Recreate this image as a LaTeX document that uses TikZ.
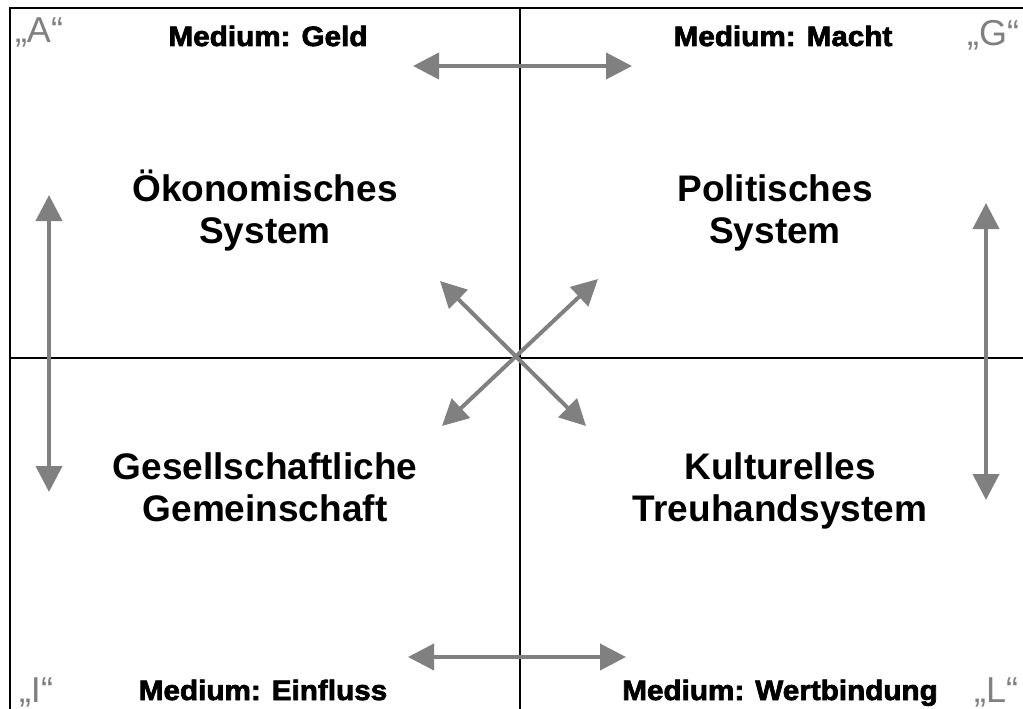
\documentclass[tikz,border=0pt]{standalone}
\usepackage{fontspec}
\setmainfont{Liberation Sans}
\newfontface\heavyfont{Liberation Sans Bold}[FakeBold=2.5,FakeStretch=1.06]
\usetikzlibrary{arrows.meta}

\begin{document}
\begin{tikzpicture}[x=1pt,y=-1pt,
         axis/.style = {black, line width=2pt},
         exchange/.style = {draw=gray, line width=4pt,
         {Triangle[length=26pt,width=26pt]}-{Triangle[length=26pt,width=26pt]}},
         system/.style = {anchor=base, align=center,
         font=\fontsize{37}{42}\selectfont\bfseries},
         medium/.style = {anchor=base, font=\fontsize{28}{30}\heavyfont},
         corner/.style = {anchor=base, text=gray, font=\fontsize{36}{38}\selectfont}
]
         \useasboundingbox (0,0) rectangle (1023,709);

         % frame and cross
         \draw[axis] (10,709) -- (10,8) -- (1023,8);
         \draw[axis] (520,8) -- (520,709);
         \draw[axis] (10,358) -- (1023,358);

         % the four systems
         \node[system] (oek) at (265,243) {Ökonomisches\\System};
         \node[system] (pol) at (775,243) {Politisches\\System};
         \node[system] (ges) at (265,521) {Gesellschaftliche\\Gemeinschaft};
         \node[system] (kul) at (780,521) {Kulturelles\\Treuhandsystem};

         % media
         \node[medium] (geld)  at (268,46)  {Medium: Geld};
         \node[medium] (macht) at (783,46)  {Medium: Macht};
         \node[medium] (einfl) at (263,700) {Medium: Einfluss};
         \node[medium] (wert)  at (780,700) {Medium: Wertbindung};

         % AGIL
         \node[corner] (a) at (39,43)   {„A“};
         \node[corner] (g) at (993,46)  {„G“};
         \node[corner] (i) at (36,702)  {„I“};
         \node[corner] (l) at (996,702) {„L“};

         % arrow ends
         \coordinate (t1) at (413,66);  \coordinate (t2) at (632,66);
         \coordinate (b1) at (408,657); \coordinate (b2) at (626,657);
         \coordinate (l1) at (49,195);  \coordinate (l2) at (49,492);
         \coordinate (r1) at (986,203); \coordinate (r2) at (986,500);
         \coordinate (nw) at (440,281); \coordinate (se) at (586,426);
         \coordinate (ne) at (598,279); \coordinate (sw) at (442,426);

         \draw[exchange] (t1) -- (t2);
         \draw[exchange] (b1) -- (b2);
         \draw[exchange] (l1) -- (l2);
         \draw[exchange] (r1) -- (r2);
         \draw[exchange] (nw) -- (se);
         \draw[exchange] (ne) -- (sw);
\end{tikzpicture}
\end{document}
